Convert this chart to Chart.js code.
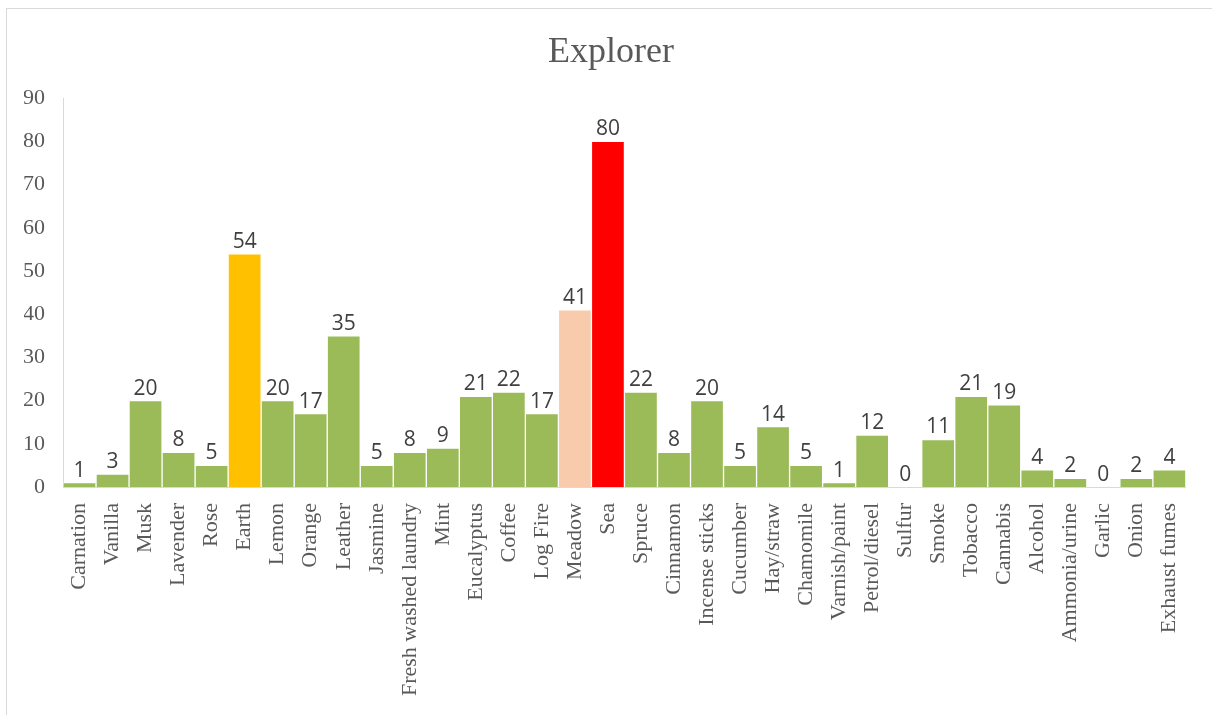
<!DOCTYPE html>
<html>
<head>
<meta charset="utf-8">
<title>Explorer</title>
<script src="https://cdn.jsdelivr.net/npm/chart.js@4.4.1/dist/chart.umd.min.js"></script>
<style>
  html, body { margin: 0; padding: 0; background: #ffffff; overflow: hidden; }
  #wrap { position: relative; width: 1212px; height: 715px; }
  #frame {
    position: absolute; left: 6px; top: 8px; width: 1400px; height: 900px;
    border: 1px solid #d9d9d9; box-sizing: border-box;
  }
  #chart { position: absolute; left: 0; top: 0; }
</style>
</head>
<body>
<div id="wrap">
  <div id="frame"></div>
  <canvas id="chart" width="1212" height="715"></canvas>
</div>
<script>
// Odour categories and how often each was named
const categories = [
  "Carnation", "Vanilla", "Musk", "Lavender", "Rose", "Earth", "Lemon", "Orange",
  "Leather", "Jasmine", "Fresh washed laundry", "Mint", "Eucalyptus", "Coffee",
  "Log Fire", "Meadow", "Sea", "Spruce", "Cinnamon", "Incense sticks", "Cucumber",
  "Hay/straw", "Chamomile", "Varnish/paint", "Petrol/diesel", "Sulfur", "Smoke",
  "Tobacco", "Cannabis", "Alcohol", "Ammonia/urine", "Garlic", "Onion", "Exhaust fumes"
];
const counts = [
  1, 3, 20, 8, 5, 54, 20, 17,
  35, 5, 8, 9, 21, 22,
  17, 41, 80, 22, 8, 20, 5,
  14, 5, 1, 12, 0, 11,
  21, 19, 4, 2, 0, 2, 4
];
const yTicks = [0, 10, 20, 30, 40, 50, 60, 70, 80, 90];

// Bar fills: a default green, with a few categories picked out
const defaultColor = "#9bbb59";
const highlightColors = { "Earth": "#ffc000", "Meadow": "#f8cbad", "Sea": "#ff0000" };
const barColors = categories.map(c => highlightColors[c] || defaultColor);

// Value labels above each bar
const valueLabels = {
  id: "valueLabels",
  afterDatasetsDraw(chart) {
    const { ctx } = chart;
    const meta = chart.getDatasetMeta(0);
    ctx.save();
    ctx.font = "21px 'Open Sans', sans-serif";
    ctx.fillStyle = "#404040";
    ctx.textAlign = "center";
    ctx.textBaseline = "alphabetic";
    meta.data.forEach((bar, i) => {
      ctx.fillText(String(counts[i]), bar.x, bar.y - 6);
    });
    ctx.restore();
  }
};

new Chart(document.getElementById("chart"), {
  type: "bar",
  data: {
    labels: categories,
    datasets: [{
      data: counts,
      backgroundColor: barColors,
      borderColor: "rgba(255,255,255,0.4)",
      borderWidth: 1,
      barPercentage: 1.0,
      categoryPercentage: 1.0
    }]
  },
  options: {
    responsive: false,
    animation: false,
    layout: { padding: { left: 24, right: 14, top: 0, bottom: 0 } },
    plugins: {
      legend: { display: false },
      tooltip: { enabled: false },
      title: {
        display: true,
        text: "Explorer",
        color: "#595959",
        font: { family: "'Liberation Serif', 'Times New Roman', serif", size: 36, weight: "normal", lineHeight: 1.2 },
        padding: { top: 31, bottom: 24 }
      }
    },
    scales: {
      x: {
        grid: { display: false, drawTicks: false },
        border: { display: true, color: "#d9d9d9", width: 1 },
        ticks: {
          autoSkip: false,
          minRotation: 90,
          maxRotation: 90,
          padding: 16,
          color: "#595959",
          font: { family: "'Liberation Serif', 'Times New Roman', serif", size: 22 }
        },
        afterFit(scale) { scale.height = 228; }
      },
      y: {
        min: 0,
        max: 90,
        grid: { display: false, drawTicks: false },
        border: { display: true, color: "#d9d9d9", width: 1 },
        afterBuildTicks(scale) { scale.ticks = yTicks.map(v => ({ value: v })); },
        ticks: {
          padding: 18,
          color: "#595959",
          font: { family: "'Liberation Serif', 'Times New Roman', serif", size: 22 }
        },
        afterFit(scale) { scale.width = 39; }
      }
    }
  },
  plugins: [valueLabels]
});
</script>
</body>
</html>
